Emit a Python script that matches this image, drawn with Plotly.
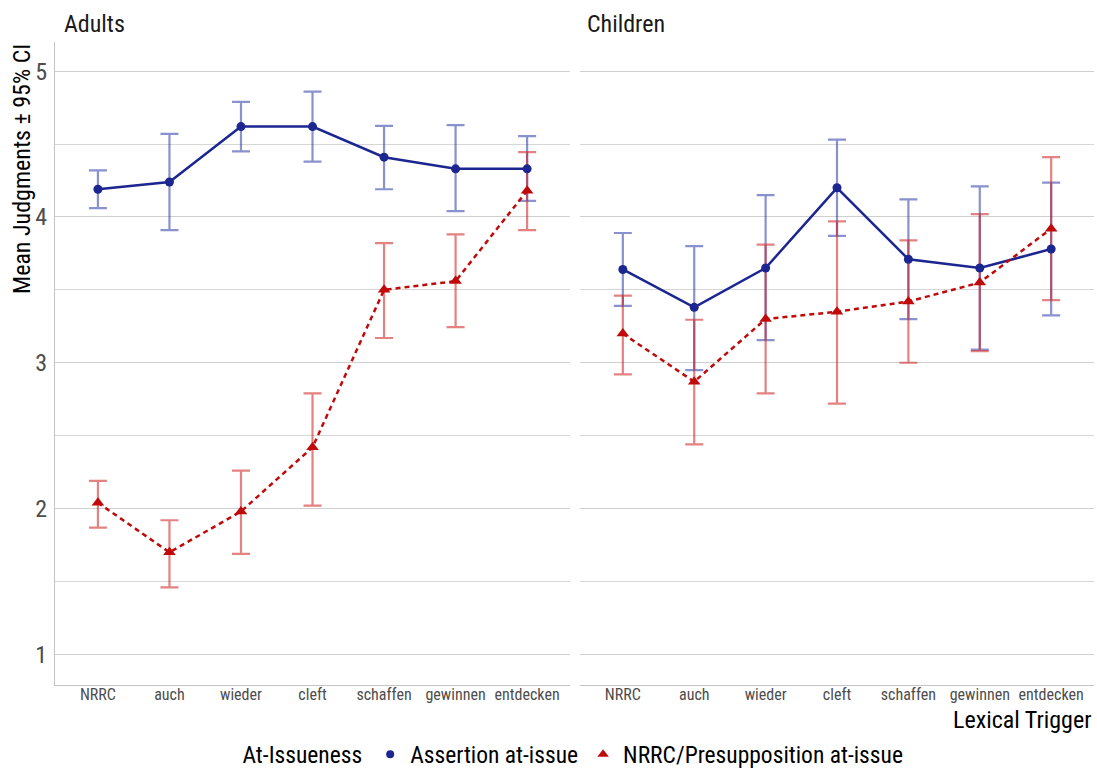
import plotly.graph_objects as go

triggers = ["NRRC", "auch", "wieder", "cleft", "schaffen", "gewinnen", "entdecken"]

# Adults
adult_assert_mean = [4.19, 4.24, 4.62, 4.62, 4.41, 4.33, 4.33]
adult_assert_lo = [4.06, 3.91, 4.45, 4.38, 4.19, 4.04, 4.11]
adult_assert_hi = [4.32, 4.57, 4.79, 4.86, 4.625, 4.63, 4.555]

adult_presup_mean = [2.04, 1.70, 1.98, 2.42, 3.50, 3.56, 4.18]
adult_presup_lo = [1.87, 1.46, 1.69, 2.02, 3.17, 3.245, 3.91]
adult_presup_hi = [2.19, 1.92, 2.26, 2.79, 3.82, 3.88, 4.445]

# Children
child_assert_mean = [3.64, 3.38, 3.65, 4.20, 3.71, 3.65, 3.78]
child_assert_lo = [3.39, 2.95, 3.155, 3.87, 3.30, 3.09, 3.325]
child_assert_hi = [3.89, 3.80, 4.15, 4.53, 4.12, 4.21, 4.235]

child_presup_mean = [3.20, 2.87, 3.30, 3.35, 3.42, 3.55, 3.92]
child_presup_lo = [2.92, 2.44, 2.79, 2.72, 3.00, 3.08, 3.43]
child_presup_hi = [3.46, 3.295, 3.81, 3.97, 3.84, 4.02, 4.41]

legend_names = ["Assertion at-issue", "NRRC/Presupposition at-issue"]

FONT = "Roboto Condensed, Roboto, sans-serif"
BLUE = "#1c2690"
RED = "#c00a0a"
BLUE_EB = "rgba(40,55,165,0.55)"
RED_EB = "rgba(205,25,25,0.55)"

fig = go.Figure()


def add_panel(xa, ya, am, alo, ahi, pm, plo, phi):
    for mean, lo, hi, col in [(am, alo, ahi, BLUE_EB), (pm, plo, phi, RED_EB)]:
        fig.add_trace(go.Scatter(
            x=triggers, y=mean, mode="markers", xaxis=xa, yaxis=ya,
            marker=dict(size=1, color="rgba(0,0,0,0)"), showlegend=False, hoverinfo="skip",
            error_y=dict(type="data", symmetric=False,
                         array=[h - m for h, m in zip(hi, mean)],
                         arrayminus=[m - l for m, l in zip(mean, lo)],
                         color=col, thickness=2.2, width=9)))
    fig.add_trace(go.Scatter(
        x=triggers, y=am, mode="lines+markers", xaxis=xa, yaxis=ya,
        line=dict(color=BLUE, width=2.5), marker=dict(symbol="circle", size=9, color=BLUE),
        showlegend=False))
    fig.add_trace(go.Scatter(
        x=triggers, y=pm, mode="lines+markers", xaxis=xa, yaxis=ya,
        line=dict(color=RED, width=2.5, dash="5px,4px"),
        marker=dict(symbol="triangle-up", size=11, color=RED),
        showlegend=False))


add_panel("x", "y", adult_assert_mean, adult_assert_lo, adult_assert_hi,
          adult_presup_mean, adult_presup_lo, adult_presup_hi)
add_panel("x2", "y2", child_assert_mean, child_assert_lo, child_assert_hi,
          child_presup_mean, child_presup_lo, child_presup_hi)

# legend-only traces
fig.add_trace(go.Scatter(x=[None], y=[None], mode="markers", name=legend_names[0],
                         marker=dict(symbol="circle", size=8, color=BLUE)))
fig.add_trace(go.Scatter(x=[None], y=[None], mode="markers", name=legend_names[1],
                         marker=dict(symbol="triangle-up", size=10, color=RED)))

xcommon = dict(type="category", categoryorder="array", categoryarray=triggers,
               range=[-0.6, 6.6], showgrid=False, zeroline=False, automargin=False,
               showline=True, linecolor="#c4c4c4", linewidth=1.2, ticks="",
               tickfont=dict(family=FONT, size=16, color="#4d4d4d"), ticklabelstandoff=-5)
ycommon = dict(range=[0.79, 5.2], tickvals=[1, 2, 3, 4, 5], showgrid=True, automargin=False,
               gridcolor="#cfcfcf", gridwidth=1, zeroline=False, ticks="",
               minor=dict(dtick=0.5, tick0=0, showgrid=True, gridcolor="#d6d6d6", gridwidth=1))

TITLE_SIZE = 24

fig.update_layout(
    width=1097, height=769,
    margin=dict(l=55, r=3, t=42, b=84, autoexpand=False),
    plot_bgcolor="white", paper_bgcolor="white",
    font=dict(family=FONT, color="#1a1a1a"),
    xaxis=dict(domain=[0, 0.4957], **xcommon),
    xaxis2=dict(domain=[0.5053, 1], **xcommon),
    yaxis=dict(anchor="x", showline=True, linecolor="#c4c4c4", linewidth=1.2,
               tickfont=dict(family=FONT, size=24, color="#4d4d4d"), ticklabelstandoff=2,
               **ycommon),
    yaxis2=dict(anchor="x2", matches="y", showline=False, showticklabels=False, **ycommon),
    legend=dict(orientation="h", x=0.5, xanchor="center", y=-0.108, yanchor="middle",
                title=dict(text="At-Issueness", font=dict(family=FONT, size=23.5, color="black")),
                font=dict(family=FONT, size=23.5, color="black"), itemwidth=30),
    annotations=[
        dict(text="Adults", xref="paper", yref="paper", x=0.0067, y=1.0, xanchor="left", yanchor="bottom",
             yshift=2, showarrow=False, font=dict(family=FONT, size=TITLE_SIZE, color="#1a1a1a")),
        dict(text="Children", xref="paper", yref="paper", x=0.51, y=1.0, xanchor="left", yanchor="bottom",
             yshift=2, showarrow=False, font=dict(family=FONT, size=TITLE_SIZE, color="#1a1a1a")),
        dict(text="Lexical Trigger", xref="paper", yref="paper", x=1.0, y=0, xanchor="right", yanchor="top",
             yshift=-19, showarrow=False, font=dict(family=FONT, size=TITLE_SIZE, color="black")),
        dict(text="Mean Judgments ± 95% CI", xref="paper", yref="paper", x=0, y=1.0,
             xanchor="center", yanchor="top", xshift=-33, textangle=-90, showarrow=False,
             font=dict(family=FONT, size=TITLE_SIZE, color="black")),
    ],
)

fig.write_html("out.html")
